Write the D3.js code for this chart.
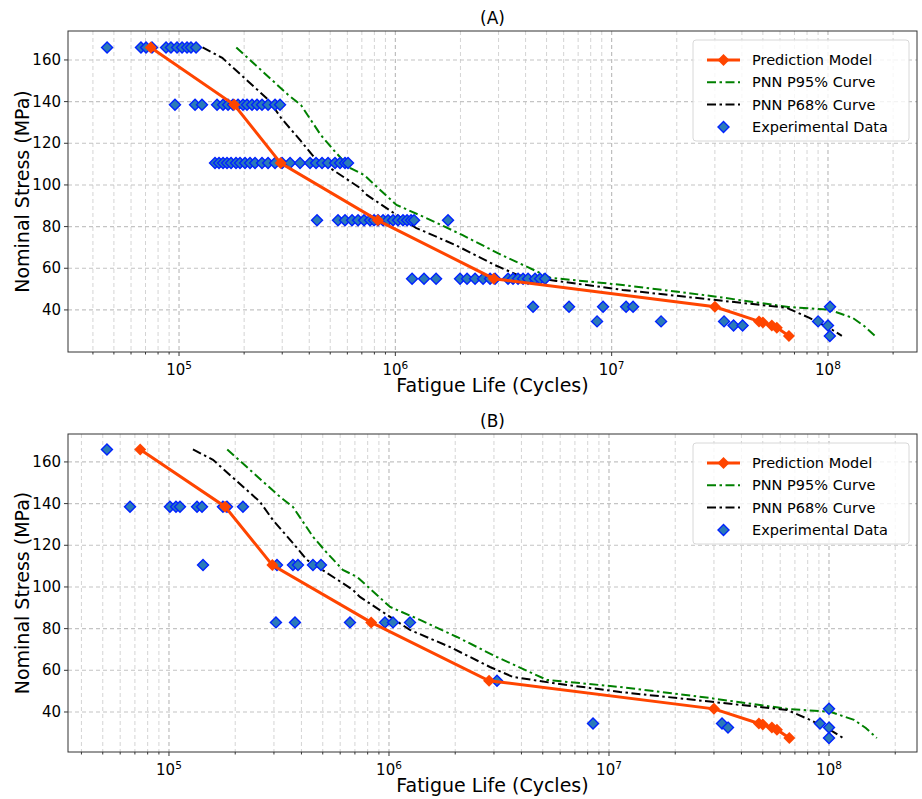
<!DOCTYPE html>
<html><head><meta charset="utf-8">
<script src="https://cdn.jsdelivr.net/npm/d3@7"></script>
<style>body{margin:0;background:#fff}svg{display:block}text{font-family:"DejaVu Sans",sans-serif;fill:#000}</style>
</head><body>
<svg id="c" width="922" height="799"></svg>
<script>
// ---------- data ----------
const stressLevels = [166, 138.5, 110.5, 83, 55, 41.5, 34.5, 32.5, 27.5];
// Panel A experimental data [cycles, stress]
const expA166 = [46500, 66700, 70400, 75000, 87100, 91800, 97900, 103300, 108900, 113600, 119900];
const expA138 = [95800, 118600, 127700, 149900, 159800, 168500, 177700, 187400, 197600, 206200, 217500, 229400, 241900, 258000, 277900, 293000];
const expA110 = [146700, 153100, 159800, 166700, 174000, 183400, 191400, 201900, 212900, 224600, 241900, 258000, 277900, 299400, 326100, 362600, 403300, 429900, 458300, 488500, 526200, 555000, 585300, 604300];
const expA83 = [434500, 543300, 585300, 630800, 672400, 716800, 763900, 797200, 831800, 877300, 925300, 975700, 1029000, 1085000, 1133000, 1182000, 1221000, 1752000];
const expA55 = [1195000, 1357000, 1543000, 1991000, 2145000, 2336000, 2544000, 2741000, 2890000, 3319000, 3500000, 3692000, 3894000, 4106000, 4424000, 4667000, 4921000];
const expA41 = [4331000, 6353000, 9125000, 11660000, 12560000, 102200000];
const expA34 = [8560000, 16920000, 33080000, 90000000];
const expA32 = [36600000, 40300000, 100000000];
const expA27 = [102000000];
// Panel B experimental data
const expB166 = [52250];
const expB138 = [66500, 101000, 107600, 112200, 134100, 141300, 175900, 183500, 216900];
const expB110 = [142800, 309700, 366000, 385700, 451300, 490800];
const expB83 = [306400, 373900, 664800, 959000, 1043000, 1246000];
const expB55 = [3097000];
const expB41 = [100000000];
const expB34 = [8460000, 32640000, 91000000];
const expB32 = [34750000, 100000000];
const expB27 = [100000000];
// Prediction model
const modelLife = [74000, 180000, 295000, 830000, 2850000, 30000000, 48000000, 50000000, 55000000, 58000000, 66000000];
const modelStress = [166, 138.5, 110.5, 83, 55, 41.5, 34.5, 34, 32.5, 31.5, 27.5];
// PNN curves
const p95Life = [184000, 320000, 366000, 452000, 523000, 617000, 716000, 1012000, 1384000, 2037000, 3090000, 5224000, 11220000, 28770000, 65610000, 101200000, 130000000, 147000000, 165000000];
const p95Stress = [166, 143.2, 138.4, 124, 116.3, 108.2, 104.8, 90.4, 84.2, 76, 66.4, 55.4, 52, 46.7, 41.4, 40.1, 36.2, 32.3, 27.5];
const p68Life = [128500, 158500, 259400, 297200, 366400, 423600, 501200, 685500, 738000, 1245000, 1892000, 2877000, 3664000, 5559000, 11220000, 28770000, 64420000, 82040000, 104200000, 115900000];
const p68Stress = [166, 161, 140.8, 132, 121, 113, 108, 98.6, 95.2, 79.4, 71.2, 61.6, 56.8, 53.9, 49.6, 45, 41, 36.2, 30.6, 27.5];
const yTicks = [40, 60, 80, 100, 120, 140, 160];
const xTicks = [1e5, 1e6, 1e7, 1e8];
const legendLabels = ["Prediction Model", "PNN P95% Curve", "PNN P68% Curve", "Experimental Data"];
const panelTitles = ["(A)", "(B)"];

function pts(xs, s){ return xs.map(x => [x, s]); }
const expA = [].concat(pts(expA166,166), pts(expA138,138.5), pts(expA110,110.5), pts(expA83,83), pts(expA55,55), pts(expA41,41.5), pts(expA34,34.5), pts(expA32,32.5), pts(expA27,27.5));
const expB = [].concat(pts(expB166,166), pts(expB138,138.5), pts(expB110,110.5), pts(expB83,83), pts(expB55,55), pts(expB41,41.5), pts(expB34,34.5), pts(expB32,32.5), pts(expB27,27.5));
const model = modelLife.map((x,i)=>[x, modelStress[i]]);
const p95 = p95Life.map((x,i)=>[x, p95Stress[i]]);
const p68 = p68Life.map((x,i)=>[x, p68Stress[i]]);

const svg = d3.select("#c");
const ORANGE = "#ff4500", GREEN = "#008000";
const diamond = r => `M0,${-r}L${r},0L0,${r}L${-r},0Z`;

function panel(cfg){
  const {L,R,T,B,xdom,ydom,exp,title,xlab} = cfg;
  const x = d3.scaleLog().domain(xdom).range([L,R]);
  const y = d3.scaleLinear().domain(ydom).range([B,T]);
  const g = svg.append("g");
  const cid = "clip"+title.replace(/\W/g,"");
  svg.append("clipPath").attr("id",cid).append("rect").attr("x",L).attr("y",T).attr("width",R-L).attr("height",B-T);
  // grid
  const minor = [];
  for(let e=4;e<=8;e++) for(let m=1;m<=9;m++){ const v=m*Math.pow(10,e); if(v>=xdom[0]&&v<=xdom[1]) minor.push(v); }
  const grid = g.append("g");
  grid.selectAll("line.mx").data(minor).join("line")
    .attr("x1",d=>x(d)).attr("x2",d=>x(d)).attr("y1",T).attr("y2",B)
    .attr("stroke", d=> xTicks.includes(d) ? "#b8b8b8" : "#cfcfcf")
    .attr("stroke-width", d=> xTicks.includes(d) ? 1.1 : 0.9)
    .attr("stroke-dasharray","4,3");
  grid.selectAll("line.my").data(yTicks).join("line")
    .attr("x1",L).attr("x2",R).attr("y1",d=>y(d)).attr("y2",d=>y(d))
    .attr("stroke","#c4c4c4").attr("stroke-width",1.1).attr("stroke-dasharray","4,3");
  // axes ticks
  const ax = g.append("g");
  ax.selectAll("line.tmin").data(minor).join("line")
    .attr("x1",d=>x(d)).attr("x2",d=>x(d)).attr("y1",B).attr("y2",d=>B+(xTicks.includes(d)?4:2.5))
    .attr("stroke","#000").attr("stroke-width",0.8);
  ax.selectAll("line.ty").data(yTicks).join("line")
    .attr("x1",L-4).attr("x2",L).attr("y1",d=>y(d)).attr("y2",d=>y(d))
    .attr("stroke","#000").attr("stroke-width",0.8);
  ax.selectAll("text.ty").data(yTicks).join("text")
    .attr("x",L-7).attr("y",d=>y(d)+5).attr("text-anchor","end").attr("font-size",15).text(d=>d);
  const xt = ax.selectAll("text.tx").data(xTicks).join("text")
    .attr("x",d=>x(d)).attr("y",B+23).attr("text-anchor","middle").attr("font-size",15);
  xt.append("tspan").text("10");
  xt.append("tspan").attr("dy",-6).attr("font-size",10.5).text(d=>Math.round(Math.log10(d)));
  // labels
  g.append("text").attr("x",(L+R)/2).attr("y",B+xlab).attr("text-anchor","middle").attr("font-size",19).text("Fatigue Life (Cycles)");
  g.append("text").attr("transform",`translate(${L-39},${(T+B)/2}) rotate(-90)`).attr("text-anchor","middle").attr("font-size",19).text("Nominal Stress (MPa)");
  g.append("text").attr("x",(L+R)/2).attr("y",T-7).attr("text-anchor","middle").attr("font-size",17).text(title);
  // data
  const plot = g.append("g").attr("clip-path",`url(#${cid})`);
  const line = d3.line().x(d=>x(d[0])).y(d=>y(d[1]));
  plot.append("path").datum(p95).attr("d",line).attr("fill","none").attr("stroke",GREEN).attr("stroke-width",2).attr("stroke-dasharray","9,3.5,2.5,3.5");
  plot.append("path").datum(p68).attr("d",line).attr("fill","none").attr("stroke","#000").attr("stroke-width",2).attr("stroke-dasharray","9,3.5,2.5,3.5");
  plot.selectAll("path.e").data(exp).join("path").attr("d",diamond(5.5))
    .attr("transform",d=>`translate(${x(d[0])},${y(d[1])})`)
    .attr("fill","#2a7ab8").attr("stroke","#0022ff").attr("stroke-width",1.4);
  plot.append("path").datum(model).attr("d",line).attr("fill","none").attr("stroke",ORANGE).attr("stroke-width",3);
  plot.selectAll("path.m").data(model).join("path").attr("d",diamond(6))
    .attr("transform",d=>`translate(${x(d[0])},${y(d[1])})`).attr("fill",ORANGE);
  // frame
  g.append("rect").attr("x",L).attr("y",T).attr("width",R-L).attr("height",B-T).attr("fill","none").attr("stroke","#333").attr("stroke-width",1);
  // legend
  const lx = R-224, ly = T+9;
  const lg = g.append("g");
  lg.append("rect").attr("x",lx).attr("y",ly).attr("width",216).attr("height",101).attr("rx",3)
    .attr("fill","#fff").attr("fill-opacity",0.8).attr("stroke","#d8d8d8");
  legendLabels.forEach((lab,i)=>{
    const yy = ly + 20 + i*22.3;
    const hx0 = lx+14, hx1 = lx+47;
    if(i===0){
      lg.append("line").attr("x1",hx0).attr("x2",hx1).attr("y1",yy).attr("y2",yy).attr("stroke",ORANGE).attr("stroke-width",3);
      lg.append("path").attr("d",diamond(6)).attr("transform",`translate(${(hx0+hx1)/2},${yy})`).attr("fill",ORANGE);
    } else if(i<3){
      lg.append("line").attr("x1",hx0).attr("x2",hx1).attr("y1",yy).attr("y2",yy).attr("stroke",i===1?GREEN:"#000").attr("stroke-width",2).attr("stroke-dasharray","9,3.5,2.5,3.5");
    } else {
      lg.append("path").attr("d",diamond(5.5)).attr("transform",`translate(${(hx0+hx1)/2},${yy})`)
        .attr("fill","#2a7ab8").attr("stroke","#0022ff").attr("stroke-width",1.4);
    }
    lg.append("text").attr("x",lx+59).attr("y",yy+5).attr("font-size",14.5).text(lab);
  });
}
panel({L:68,R:917,T:31,B:352,xdom:[Math.pow(10,4.4868),Math.pow(10,8.4115)],ydom:[19.8,173.9],exp:expA,title:panelTitles[0],xlab:40});
panel({L:68,R:917,T:434,B:752,xdom:[Math.pow(10,4.541),Math.pow(10,8.4)],ydom:[20.8,173.4],exp:expB,title:panelTitles[1],xlab:40});
</script>
</body></html>
